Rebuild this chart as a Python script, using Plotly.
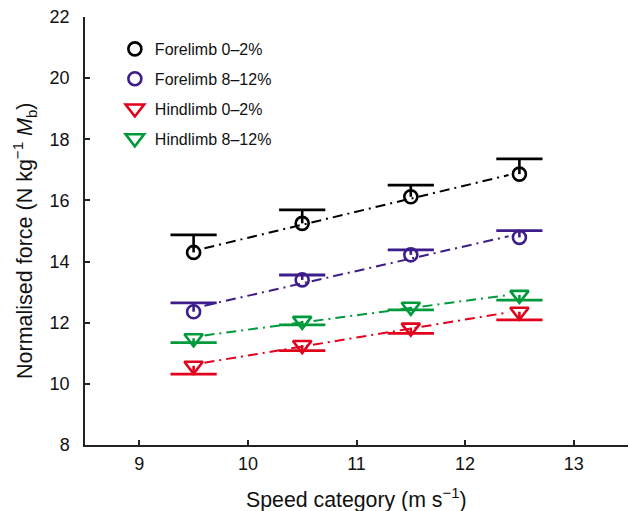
import numpy as np
import plotly.graph_objects as go

# Speed categories (m s^-1)
speed = [9.5, 10.5, 11.5, 12.5]

# Mean normalised force per group
fore_0_2 = [14.30, 15.25, 16.12, 16.86]
fore_8_12 = [12.36, 13.40, 14.22, 14.79]
hind_0_2 = [10.59, 11.27, 11.84, 12.36]
hind_8_12 = [11.49, 12.06, 12.52, 12.91]

# One-sided error (forelimb upward, hindlimb downward)
fore_0_2_err = [0.57, 0.44, 0.38, 0.50]
fore_8_12_err = [0.29, 0.16, 0.16, 0.22]
hind_0_2_err = [0.27, 0.18, 0.19, 0.27]
hind_8_12_err = [0.14, 0.13, 0.10, 0.17]

x_ticks = [9, 10, 11, 12, 13]
y_ticks = [8, 10, 12, 14, 16, 18, 20, 22]

BLACK = "#000000"
PURPLE = "#3d1c8c"
RED = "#e2001d"
GREEN = "#009a3c"
FONT = "Liberation Sans, Arial, Helvetica, sans-serif"

series = [
    ("Forelimb 0–2%", fore_0_2, fore_0_2_err, BLACK, "circle-open", 1),
    ("Forelimb 8–12%", fore_8_12, fore_8_12_err, PURPLE, "circle-open", 1),
    ("Hindlimb 0–2%", hind_0_2, hind_0_2_err, RED, "triangle-down-open", -1),
    ("Hindlimb 8–12%", hind_8_12, hind_8_12_err, GREEN, "triangle-down-open", -1),
]

fig = go.Figure()

# Linear regression lines (dash-dot)
for name, vals, err, col, sym, sign in series:
    slope, icpt = np.polyfit(speed, vals, 1)
    xl = np.array([speed[0] + 0.1, speed[-1] - 0.1])
    fig.add_trace(go.Scatter(
        x=xl, y=slope * xl + icpt, mode="lines",
        line=dict(color=col, width=2, dash="10px,5px,2px,5px"),
        showlegend=False, hoverinfo="skip",
    ))

# One-sided error bars: a stem from the mean plus a single cap at the far end
for i, (name, vals, err, col, sym, sign) in enumerate(series):
    cap_y = [v + sign * e for v, e in zip(vals, err)]
    stem_x, stem_y = [], []
    for s, v, c in zip(speed, vals, cap_y):
        stem_x += [s, s, None]
        stem_y += [v, c, None]
    fig.add_trace(go.Scatter(
        x=stem_x, y=stem_y, mode="lines", showlegend=False, hoverinfo="skip",
        line=dict(color=col, width=2.6),
    ))
    fig.add_trace(go.Scatter(
        x=speed, y=cap_y, mode="markers", showlegend=False, hoverinfo="skip",
        marker=dict(symbol="line-ew", size=33, color=col,
                    line=dict(width=2.8, color=col)),
    ))
    fig.add_trace(go.Scatter(
        x=speed, y=vals, mode="markers", name=name,
        legendgroup=f"g{i}",
        marker=dict(symbol=sym, size=13 if sign > 0 else 16, color=col,
                    line=dict(width=2.6, color=col)),
    ))

axis_common = dict(
    showline=True, linecolor="#222222", linewidth=1.5,
    ticks="inside", ticklen=5, tickwidth=1.5, tickcolor="#222222",
    showgrid=False, zeroline=False, automargin=False,
    tickfont=dict(family=FONT, size=18, color="#111111"),
)

fig.update_layout(
    width=630, height=511,
    margin=dict(l=85, r=2, t=17, b=66),
    paper_bgcolor="white", plot_bgcolor="white",
    font=dict(family=FONT, color="#111111"),
    xaxis=dict(
        range=[8.5, 13.5], tickvals=x_ticks, ticklabelstandoff=2,
        **axis_common,
    ),
    yaxis=dict(
        range=[8, 22], tickvals=y_ticks, ticklabelstandoff=10,
        **axis_common,
    ),
    legend=dict(
        x=0.055, y=0.965, xanchor="left", yanchor="top",
        font=dict(family=FONT, size=16, color="#111111"),
        bgcolor="rgba(0,0,0,0)", tracegroupgap=6, itemwidth=30,
    ),
    annotations=[
        dict(
            text="Speed category (m s<sup>−1</sup>)",
            xref="paper", yref="paper", x=0.5, y=0, xanchor="center", yanchor="middle",
            yshift=-53, showarrow=False,
            font=dict(family=FONT, size=21.3, color="#111111"),
        ),
        dict(
            text="Normalised force (N kg<sup>−1</sup> <i>M</i><sub>b</sub>)",
            xref="paper", yref="paper", x=0, y=0.5, xanchor="center", yanchor="middle",
            xshift=-61, yshift=-10, textangle=-90, showarrow=False,
            font=dict(family=FONT, size=21.5, color="#111111"),
        ),
    ],
)

fig.write_html("out.html")
